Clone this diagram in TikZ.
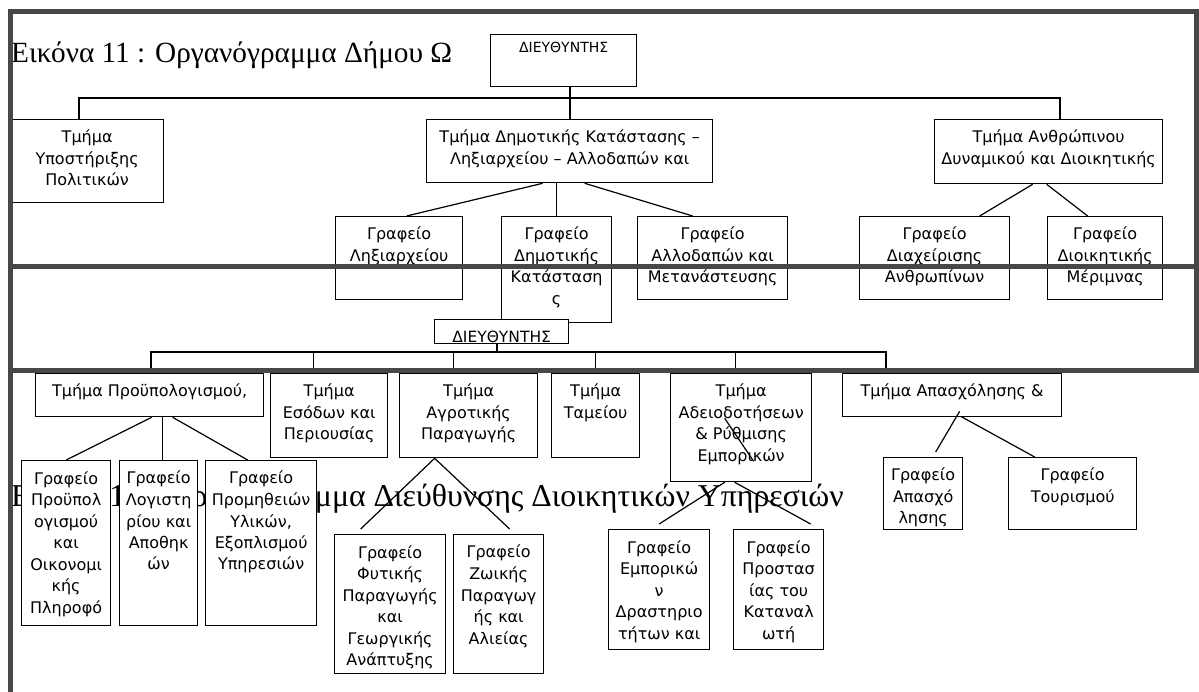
\documentclass[tikz,border=0pt]{standalone}
\usepackage{fontspec}
\setmainfont{Liberation Serif}
\newfontfamily\boxfont{DejaVu Sans}
\definecolor{framegray}{HTML}{474747}

\begin{document}
\begin{tikzpicture}[x=1pt, y=-1pt,
    box/.style={draw, fill=white, line width=1.3pt, inner sep=0pt, anchor=north west},
    txt/.style={anchor=north, align=center, inner sep=0pt, yshift=-11pt,
      font=\boxfont\fontsize{16}{21.5}\selectfont},
    boxtext/.style={label={[txt]north:{#1}}},
    dirtext/.style={anchor=north, inner sep=0pt, yshift=-8pt,
      font=\boxfont\fontsize{14}{16}\selectfont},
    dirlow/.style={anchor=south, inner sep=0pt, yshift=1pt,
      font=\boxfont\fontsize{15.5}{17}\selectfont},
    link/.style={line width=1.2pt},
    frame/.style={line width=5pt, draw=framegray},
    caption/.style={anchor=base west, inner sep=0pt, font=\fontsize{29.3}{34}\selectfont}]
  \useasboundingbox (0,0) rectangle (1199,692);

  % second caption lies behind the boxes
  \node[caption, font=\fontsize{31.8}{36}\selectfont] (cap2) at (11,506)
    {Εικόνα 12 : Οργανόγραμμα Διεύθυνσης Διοικητικών Υπηρεσιών};

  % first chart
  \node[caption] (cap1) at (11,63) {Εικόνα 11 : Οργανόγραμμα Δήμου Ω};
  \node[box, minimum width=146pt, minimum height=52pt,
    label={[dirtext]north:ΔΙΕΥΘΥΝΤΗΣ}] (dir1) at (490,34) {};
  \node[box, minimum width=153pt, minimum height=83pt,
    boxtext={Τμήμα\\Υποστήριξης\\Πολιτικών}] (tpol) at (10,119) {};
  \node[box, minimum width=286pt, minimum height=63pt,
    boxtext={Τμήμα Δημοτικής Κατάστασης –\\Ληξιαρχείου – Αλλοδαπών και}] (tdim) at (426,119) {};
  \node[box, minimum width=228pt, minimum height=64pt,
    boxtext={Τμήμα Ανθρώπινου\\Δυναμικού και Διοικητικής}] (tanth) at (934,119) {};
  \node[box, minimum width=127pt, minimum height=83pt,
    boxtext={Γραφείο\\Ληξιαρχείου}] (glix) at (335,216) {};
  \node[box, minimum width=110pt, minimum height=106pt,
    boxtext={Γραφείο\\Δημοτικής\\Κατάσταση\\ς}] (gdim) at (501,216) {};
  \node[box, minimum width=150pt, minimum height=83pt,
    boxtext={Γραφείο\\Αλλοδαπών και\\Μετανάστευσης}] (gall) at (637,216) {};
  \node[box, minimum width=150pt, minimum height=83pt,
    boxtext={Γραφείο\\Διαχείρισης\\Ανθρωπίνων}] (gdiax) at (859,216) {};
  \node[box, minimum width=115pt, minimum height=83pt,
    boxtext={Γραφείο\\Διοικητικής\\Μέριμνας}] (gmer) at (1047,216) {};

  \coordinate (bus1l) at (79,98);
  \coordinate (bus1m) at (570,98);
  \coordinate (bus1r) at (1060,98);
  \draw[link] (bus1m |- dir1.south) -- (bus1m |- tdim.north);
  \draw[link] (bus1l |- tpol.north) -- (bus1l) -- (bus1r) -- (bus1r |- tanth.north);
  \draw[link] ([xshift=-27pt]tdim.south) -- ([xshift=7.5pt]glix.north);
  \draw[link] ([xshift=-13pt]tdim.south) -- (gdim.north);
  \draw[link] ([xshift=15pt]tdim.south) -- ([xshift=-20pt]gall.north);
  \draw[link] ([xshift=-16pt]tanth.south) -- ([xshift=45pt]gdiax.north);
  \draw[link] ([xshift=-2pt]tanth.south) -- ([xshift=-17.5pt]gmer.north);

  % second chart
  \node[box, minimum width=134pt, minimum height=24pt,
    label={[dirlow]south:ΔΙΕΥΘΥΝΤΗΣ}] (dir2) at (434,319) {};
  \node[box, minimum width=228pt, minimum height=43pt,
    boxtext={Τμήμα Προϋπολογισμού,}] (tpro) at (35,373) {};
  \node[box, minimum width=117pt, minimum height=84pt,
    boxtext={Τμήμα\\Εσόδων και\\Περιουσίας}] (teso) at (270,373) {};
  \node[box, minimum width=138pt, minimum height=84pt,
    boxtext={Τμήμα\\Αγροτικής\\Παραγωγής}] (tagr) at (399,373) {};
  \node[box, minimum width=88pt, minimum height=84pt,
    boxtext={Τμήμα\\Ταμείου}] (ttam) at (551,373) {};
  \node[box, minimum width=141pt, minimum height=108pt,
    boxtext={Τμήμα\\Αδειοδοτήσεων\\\& Ρύθμισης\\Εμπορικών}] (tade) at (670,373) {};
  \node[box, minimum width=219pt, minimum height=43pt,
    boxtext={Τμήμα Απασχόλησης \&}] (taps) at (842,373) {};

  \node[box, minimum width=89pt, minimum height=165pt,
    boxtext={Γραφείο\\Προϋπολ\\ογισμού\\και\\Οικονομι\\κής\\Πληροφό}] (gpro) at (21,460) {};
  \node[box, minimum width=78pt, minimum height=165pt,
    boxtext={Γραφείο\\Λογιστη\\ρίου και\\Αποθηκ\\ών}] (glog) at (119,460) {};
  \node[box, minimum width=111pt, minimum height=165pt,
    boxtext={Γραφείο\\Προμηθειών\\Υλικών,\\Εξοπλισμού\\Υπηρεσιών}] (gprom) at (205,460) {};
  \node[box, minimum width=111pt, minimum height=139pt,
    boxtext={Γραφείο\\Φυτικής\\Παραγωγής\\και\\Γεωργικής\\Ανάπτυξης}] (gfyt) at (334,534) {};
  \node[box, minimum width=90pt, minimum height=139pt,
    boxtext={Γραφείο\\Ζωικής\\Παραγωγ\\ής και\\Αλιείας}] (gzoi) at (453,534) {};
  \node[box, minimum width=101pt, minimum height=120pt,
    boxtext={Γραφείο\\Εμπορικώ\\ν\\Δραστηριο\\τήτων και}] (gemp) at (608,529) {};
  \node[box, minimum width=90pt, minimum height=120pt,
    boxtext={Γραφείο\\Προστασ\\ίας του\\Καταναλ\\ωτή}] (gpros) at (733,529) {};
  \node[box, minimum width=79pt, minimum height=72pt,
    boxtext={Γραφείο\\Απασχό\\λησης}] (gapa) at (883,457) {};
  \node[box, minimum width=128pt, minimum height=72pt,
    boxtext={Γραφείο\\Τουρισμού}] (gtou) at (1008,457) {};

  \coordinate (bus2l) at (151,352);
  \coordinate (bus2m) at (497,352);
  \coordinate (bus2r) at (886,352);
  \draw[link] (bus2m |- dir2.south) -- (bus2m);
  \draw[link] (bus2l |- tpro.north) -- (bus2l) -- (bus2r) -- (bus2r |- taps.north);
  \foreach \n/\dx in {teso/-15.5, tagr/-15, ttam/0, tade/-5.5}
    \draw[link] ([xshift=\dx pt]\n.north) -- ([xshift=\dx pt]\n.north |- bus2m);

  \draw[link] ([xshift=2pt]tpro.south) -- (gpro.north);
  \draw[link] ([xshift=13pt]tpro.south) -- ([xshift=4pt]glog.north);
  \draw[link] ([xshift=23pt]tpro.south) -- ([xshift=-13.5pt]gprom.north);
  \draw[link] ([xshift=-29.5pt, yshift=5pt]gfyt.north) -- ([xshift=-34pt]tagr.south)
    -- ([xshift=11pt, yshift=5pt]gzoi.north);
  \draw[link] ([xshift=-16.5pt, yshift=64pt]tade.south) -- ([xshift=12.5pt, yshift=21pt]tade.south);
  \draw[link] ([yshift=5pt]gemp.north) -- ([xshift=-16.5pt]tade.south);
  \draw[link] ([xshift=-6.5pt]tade.south) -- ([xshift=32pt, yshift=5pt]gpros.north);
  \draw[link] ([xshift=7.5pt, yshift=6pt]taps.south) -- ([xshift=12.5pt, yshift=5pt]gapa.north);
  \draw[link] ([xshift=8.5pt, yshift=1pt]taps.south) -- ([xshift=-38pt]gtou.north);

  % page frames on top
  \draw[frame] (10,692) -- (10,12) -- (1196,12) -- (1196,371) -- (10,371);
  \draw[frame] (10,267) -- (1196,267);
\end{tikzpicture}
\end{document}
